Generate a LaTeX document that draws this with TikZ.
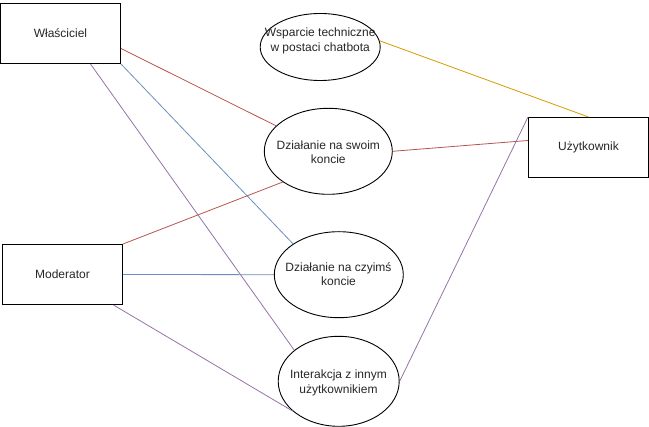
\documentclass[tikz,border=0pt]{standalone}
\usepackage{fontspec}
\setmainfont{Liberation Sans}
\usetikzlibrary{shapes.geometric}
\definecolor{cred}{HTML}{B85450}
\definecolor{cblue}{HTML}{6C8EBF}
\definecolor{cpurple}{HTML}{9673A6}
\definecolor{corange}{HTML}{D79B00}
\begin{document}
\begin{tikzpicture}[x=1pt,y=-1pt,
  box/.style={draw=black,line width=1pt,minimum width=120pt,minimum height=60pt,inner sep=0pt,font=\fontsize{12}{14.4}\selectfont,text=black!85},
  ell/.style={draw=black,line width=0.9pt,ellipse,inner sep=0pt},
  txt/.style={align=center,inner sep=0pt,font=\fontsize{12}{14.4}\selectfont,text=black!85},
  conn/.style={line width=0.8pt}]
\useasboundingbox (0,0) rectangle (649,427);
% boxes
\node[box] (w) at (60.5,33.5) {Właściciel};
\node[box] (m) at (62.5,274.5) {Moderator};
\node[box] (u) at (588.5,147.5) {Użytkownik};
% ellipses
\node[ell,minimum width=120pt,minimum height=67pt] (e1) at (320.2,47) {};
\node[ell,minimum width=128pt,minimum height=86pt] (e2) at (328.3,151.3) {};
\node[ell,minimum width=129pt,minimum height=86pt] (e3) at (338.8,274.7) {};
\node[ell,minimum width=121pt,minimum height=90pt] (e4) at (338.7,381.3) {};
\node[txt] (e1t) at (320.2,40.8) {Wsparcie techniczne\\w postaci chatbota};
\node[txt] (e2t) at (328.3,152.5) {Działanie na swoim\\koncie};
\node[txt] (e3t) at (338.5,274) {Działanie na czyimś\\koncie};
\node[txt] (e4t) at (338.5,383) {Interakcja z innym\\użytkownikiem};
% connectors
\draw[conn,cred] ([yshift=-15pt]w.east) -- (e2.154);
\draw[conn,cblue] (w.south east) -- (e3.146);
\draw[conn,cpurple] ([xshift=30pt]w.south) -- (e4.145);
\draw[conn,cred] (m.north east) -- (e2.214);
\draw[conn,cblue] (m.east) -- (e3.west);
\draw[conn,cpurple] ([xshift=51pt]m.south) -- (e4.213);
\draw[conn,corange] (e1.6) -- (u.north);
\draw[conn,cred] (e2.east) -- ([yshift=7pt]u.west);
\draw[conn,cpurple] (e4.east) -- (u.north west);
\end{tikzpicture}
\end{document}
